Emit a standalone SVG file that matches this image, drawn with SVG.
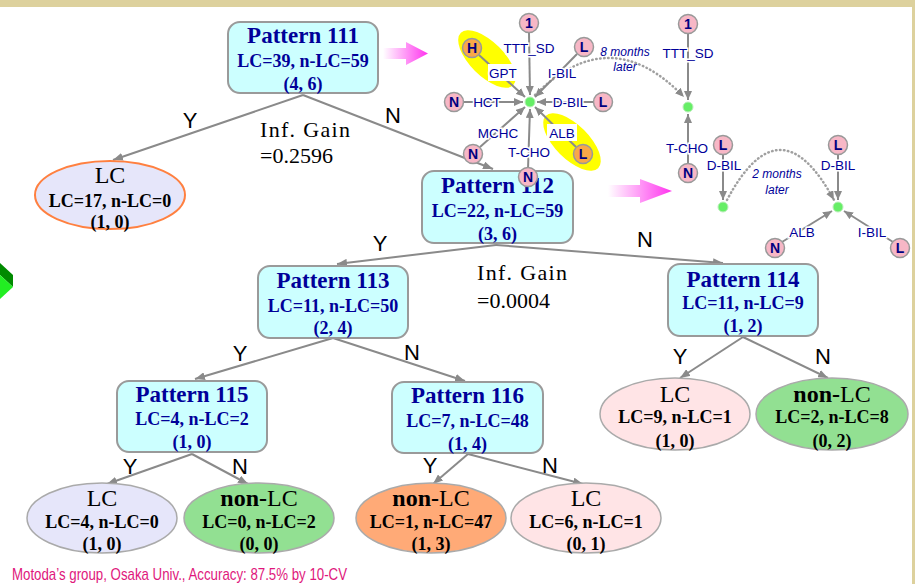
<svg xmlns="http://www.w3.org/2000/svg" width="915" height="584" viewBox="0 0 915 584">
<defs>
<marker id="ar" markerUnits="userSpaceOnUse" markerWidth="10" markerHeight="8" refX="10" refY="4" orient="auto">
<path d="M0,0 L10,4 L0,8 z" fill="#8a8a8a"/>
</marker>
<marker id="ar2" markerUnits="userSpaceOnUse" markerWidth="9" markerHeight="8" refX="9" refY="4" orient="auto">
<path d="M0,0 L9,4 L0,8 z" fill="#8a8a8a"/>
</marker>
<linearGradient id="pk" x1="0" y1="0" x2="1" y2="0">
<stop offset="0" stop-color="#ffffff"/>
<stop offset="1" stop-color="#ff33ee"/>
</linearGradient>
<style>
.box{fill:#ccffff;stroke:#9a9a9a;stroke-width:2}
.t1{font-family:"Liberation Serif",serif;font-weight:bold;font-size:23px;fill:#000099;text-anchor:middle}
.t2{font-family:"Liberation Serif",serif;font-weight:bold;font-size:18px;fill:#000099;text-anchor:middle}
.e1{font-family:"Liberation Serif",serif;font-size:24px;fill:#000;text-anchor:middle}
.e2{font-family:"Liberation Serif",serif;font-weight:bold;font-size:18px;fill:#000;text-anchor:middle}
.yn{font-family:"Liberation Sans",sans-serif;font-size:22px;fill:#000;text-anchor:middle}
.ig{font-family:"Liberation Serif",serif;font-size:22px;fill:#000}
.edge{stroke:#8a8a8a;stroke-width:2;fill:none;marker-end:url(#ar)}
.gl{stroke:#8a8a8a;stroke-width:2;fill:none;marker-end:url(#ar2)}
.dot{stroke:#a0a0a0;stroke-width:2.5;fill:none;stroke-dasharray:0.5 3.5;stroke-linecap:round;marker-end:url(#ar2)}
.cn{fill:#f7b7c6;stroke:#999;stroke-width:1.5}
.co{fill:#f8a848;stroke:#999;stroke-width:1.5}
.ct{font-family:"Liberation Sans",sans-serif;font-weight:bold;font-size:14px;fill:#000080;text-anchor:middle}
.gc{fill:#66ee66;stroke:#bbeebb;stroke-width:1}
.lb{font-family:"Liberation Sans",sans-serif;font-size:13.5px;fill:#000099;text-anchor:middle;stroke:#fff;stroke-width:3;paint-order:stroke}
.it{font-family:"Liberation Sans",sans-serif;font-style:italic;font-size:12px;fill:#000099;text-anchor:middle}
</style>
</defs>
<rect x="0" y="0" width="915" height="584" fill="#ddd19d"/>
<rect x="0" y="7" width="912" height="577" fill="#ffffff"/>

<polygon points="0,263 13,275 13,287 0,275" fill="#008a00"/>
<polygon points="0,275 13,287 0,299" fill="#22ee22"/>

<polygon points="383,48 406,48 406,42 428,53.5 406,65 406,59 383,59" fill="url(#pk)"/>
<polygon points="608,185 640,185 640,179 672,191 640,203 640,197 608,197" fill="url(#pk)"/>

<g id="connectors">
<line class="edge" x1="303" y1="95" x2="113" y2="160"/>
<line class="edge" x1="303" y1="95" x2="493" y2="169"/>
<line class="edge" x1="496" y1="245" x2="337" y2="264"/>
<line class="edge" x1="496" y1="245" x2="723" y2="263"/>
<line class="edge" x1="333" y1="338" x2="195" y2="379"/>
<line class="edge" x1="333" y1="338" x2="465" y2="381"/>
<line class="edge" x1="743" y1="337" x2="680" y2="378"/>
<line class="edge" x1="743" y1="337" x2="828" y2="378"/>
<line class="edge" x1="192" y1="454" x2="107" y2="484"/>
<line class="edge" x1="192" y1="454" x2="248" y2="484"/>
<line class="edge" x1="468" y1="454" x2="433" y2="484"/>
<line class="edge" x1="468" y1="454" x2="583" y2="484"/>
<text class="yn" x="190" y="128">Y</text>
<text class="yn" x="393" y="123">N</text>
<text class="yn" x="380" y="251">Y</text>
<text class="yn" x="645" y="247">N</text>
<text class="yn" x="240" y="361">Y</text>
<text class="yn" x="412" y="360">N</text>
<text class="yn" x="680" y="364">Y</text>
<text class="yn" x="823" y="364">N</text>
<text class="yn" x="130" y="474">Y</text>
<text class="yn" x="240" y="474">N</text>
<text class="yn" x="430" y="473">Y</text>
<text class="yn" x="550" y="473">N</text>
</g>

<text class="ig" x="260" y="137" textLength="90">Inf. Gain</text>
<text class="ig" x="260" y="163">=0.2596</text>
<text class="ig" x="477" y="280" textLength="90">Inf. Gain</text>
<text class="ig" x="477" y="308">=0.0004</text>

<g id="p111">
<rect class="box" x="228" y="22" width="150" height="71" rx="12"/>
<text class="t1" x="303" y="43">Pattern 111</text>
<text class="t2" x="303" y="67">LC=39, n-LC=59</text>
<text class="t2" x="303" y="90">(4, 6)</text>
</g>
<g id="lc111">
<ellipse cx="110" cy="195" rx="75" ry="34" fill="#e6e6fa" stroke="#ff8040" stroke-width="2"/>
<text class="e1" x="110" y="183">LC</text>
<text class="e2" x="110" y="207">LC=17, n-LC=0</text>
<text class="e2" x="110" y="228">(1, 0)</text>
</g>
<g id="p112">
<rect class="box" x="422" y="171" width="151" height="72" rx="12"/>
<text class="t1" x="497.5" y="193">Pattern 112</text>
<text class="t2" x="497.5" y="217">LC=22, n-LC=59</text>
<text class="t2" x="497.5" y="240">(3, 6)</text>
</g>
<g id="p113">
<rect class="box" x="258" y="266" width="150" height="72" rx="12"/>
<text class="t1" x="333" y="288">Pattern 113</text>
<text class="t2" x="333" y="312">LC=11, n-LC=50</text>
<text class="t2" x="333" y="334">(2, 4)</text>
</g>
<g id="p114">
<rect class="box" x="668" y="264" width="150" height="72" rx="12"/>
<text class="t1" x="743" y="287">Pattern 114</text>
<text class="t2" x="743" y="309">LC=11, n-LC=9</text>
<text class="t2" x="743" y="332">(1, 2)</text>
</g>
<g id="p115">
<rect class="box" x="117" y="381" width="150" height="71" rx="12"/>
<text class="t1" x="192" y="402">Pattern 115</text>
<text class="t2" x="192" y="425">LC=4, n-LC=2</text>
<text class="t2" x="192" y="448">(1, 0)</text>
</g>
<g id="p116">
<rect class="box" x="392" y="382" width="151" height="71" rx="12"/>
<text class="t1" x="467.5" y="403">Pattern 116</text>
<text class="t2" x="467.5" y="427">LC=7, n-LC=48</text>
<text class="t2" x="467.5" y="450">(1, 4)</text>
</g>
<g id="lc114">
<ellipse cx="675" cy="414" rx="75" ry="36" fill="#ffe4e6" stroke="#aaa" stroke-width="1.5"/>
<text class="e1" x="675" y="402">LC</text>
<text class="e2" x="675" y="423">LC=9, n-LC=1</text>
<text class="e2" x="675" y="447">(1, 0)</text>
</g>
<g id="nlc114">
<ellipse cx="832" cy="414" rx="76" ry="36" fill="#92e092" stroke="#aaa" stroke-width="1.5"/>
<text class="e1" x="832" y="402"><tspan font-weight="bold">non-</tspan>LC</text>
<text class="e2" x="832" y="423">LC=2, n-LC=8</text>
<text class="e2" x="832" y="447">(0, 2)</text>
</g>
<g id="lc115">
<ellipse cx="102" cy="518" rx="75" ry="35" fill="#e6e6fa" stroke="#aaa" stroke-width="1.5"/>
<text class="e1" x="102" y="506">LC</text>
<text class="e2" x="102" y="528">LC=4, n-LC=0</text>
<text class="e2" x="102" y="550">(1, 0)</text>
</g>
<g id="nlc115">
<ellipse cx="259" cy="518" rx="75" ry="35" fill="#92e092" stroke="#aaa" stroke-width="1.5"/>
<text class="e1" x="259" y="506"><tspan font-weight="bold">non-</tspan>LC</text>
<text class="e2" x="259" y="528">LC=0, n-LC=2</text>
<text class="e2" x="259" y="550">(0, 0)</text>
</g>
<g id="nlc116">
<ellipse cx="431" cy="518" rx="75" ry="35" fill="#ffaa77" stroke="#aaa" stroke-width="1.5"/>
<text class="e1" x="431" y="506"><tspan font-weight="bold">non-</tspan>LC</text>
<text class="e2" x="431" y="528">LC=1, n-LC=47</text>
<text class="e2" x="431" y="550">(1, 3)</text>
</g>
<g id="lc116">
<ellipse cx="586" cy="518" rx="75" ry="35" fill="#ffe4e6" stroke="#aaa" stroke-width="1.5"/>
<text class="e1" x="586" y="506">LC</text>
<text class="e2" x="586" y="528">LC=6, n-LC=1</text>
<text class="e2" x="586" y="550">(0, 1)</text>
</g>

<g id="graph1">
<ellipse cx="487" cy="59" rx="37" ry="17" fill="#ffff00" transform="rotate(45 487 59)"/>
<ellipse cx="572" cy="142" rx="37" ry="17" fill="#ffff00" transform="rotate(45 572 142)"/>
<path class="dot" d="M535,95 Q610,20 684,97"/>
<line class="gl" x1="529" y1="33" x2="530" y2="95"/>
<line class="gl" x1="479" y1="55" x2="525" y2="97"/>
<line class="gl" x1="577" y1="54" x2="535" y2="97"/>
<line class="gl" x1="463" y1="102" x2="523" y2="102"/>
<line class="gl" x1="594" y1="102" x2="537" y2="102"/>
<line class="gl" x1="480" y1="147" x2="525" y2="107"/>
<line class="gl" x1="576" y1="147" x2="535" y2="107"/>
<line class="gl" x1="528" y1="169" x2="530" y2="109"/>
<circle class="gc" cx="530" cy="102" r="5"/>
<rect x="488" y="64" width="31" height="17" fill="#fff"/>
<rect x="547" y="124" width="30" height="17" fill="#fff"/>
<text class="lb" x="529" y="53">TTT_SD</text>
<text class="lb" x="503" y="78">GPT</text>
<text class="lb" x="562" y="78">I-BIL</text>
<text class="lb" x="487" y="107">HCT</text>
<text class="lb" x="570" y="107">D-BIL</text>
<text class="lb" x="498" y="138">MCHC</text>
<text class="lb" x="562" y="138">ALB</text>
<text class="lb" x="529" y="157">T-CHO</text>
<text class="it" x="625" y="56">8 months</text>
<text class="it" x="625" y="71">later</text>
<circle class="cn" cx="529" cy="23" r="9.5"/><text class="ct" x="529" y="28">1</text>
<circle class="co" cx="472" cy="48" r="9.5"/><text class="ct" x="472" y="53">H</text>
<circle class="cn" cx="584" cy="47" r="9.5"/><text class="ct" x="584" y="52">L</text>
<circle class="cn" cx="454" cy="102" r="9.5"/><text class="ct" x="454" y="107">N</text>
<circle class="cn" cx="603" cy="102" r="9.5"/><text class="ct" x="603" y="107">L</text>
<circle class="cn" cx="473" cy="154" r="9.5"/><text class="ct" x="473" y="159">N</text>
<circle class="co" cx="583" cy="154" r="9.5"/><text class="ct" x="583" y="159">L</text>
<circle class="cn" cx="528" cy="177" r="9.5"/><text class="ct" x="528" y="182">N</text>
</g>

<g id="graph2">
<path class="dot" d="M727,200 Q780,100 834,200"/>
<line class="gl" x1="688" y1="33" x2="688" y2="100"/>
<line class="gl" x1="688" y1="164" x2="688" y2="114"/>
<line class="gl" x1="723" y1="154" x2="723" y2="200"/>
<line class="gl" x1="838" y1="154" x2="838" y2="200"/>
<line class="gl" x1="782" y1="242" x2="832" y2="211"/>
<line class="gl" x1="893" y1="242" x2="844" y2="211"/>
<circle class="gc" cx="688" cy="107" r="5"/>
<circle class="gc" cx="723" cy="207" r="5"/>
<circle class="gc" cx="838" cy="207" r="5"/>
<text class="lb" x="688" y="58">TTT_SD</text>
<text class="lb" x="687" y="153">T-CHO</text>
<text class="lb" x="724" y="170">D-BIL</text>
<text class="lb" x="838" y="170">D-BIL</text>
<text class="lb" x="802" y="237">ALB</text>
<text class="lb" x="872" y="237">I-BIL</text>
<text class="it" x="777" y="178">2 months</text>
<text class="it" x="777" y="194">later</text>
<circle class="cn" cx="688" cy="24" r="9.5"/><text class="ct" x="688" y="29">1</text>
<circle class="cn" cx="688" cy="173" r="9.5"/><text class="ct" x="688" y="178">N</text>
<circle class="cn" cx="723" cy="145" r="9.5"/><text class="ct" x="723" y="150">L</text>
<circle class="cn" cx="838" cy="145" r="9.5"/><text class="ct" x="838" y="150">L</text>
<circle class="cn" cx="775" cy="248" r="9.5"/><text class="ct" x="775" y="253">N</text>
<circle class="cn" cx="900" cy="248" r="9.5"/><text class="ct" x="900" y="253">L</text>
</g>

<text x="12" y="580" font-family="Liberation Sans, sans-serif" font-size="17" fill="#e0177c" textLength="335" lengthAdjust="spacingAndGlyphs">Motoda’s group, Osaka Univ., Accuracy: 87.5% by 10-CV</text>
</svg>
